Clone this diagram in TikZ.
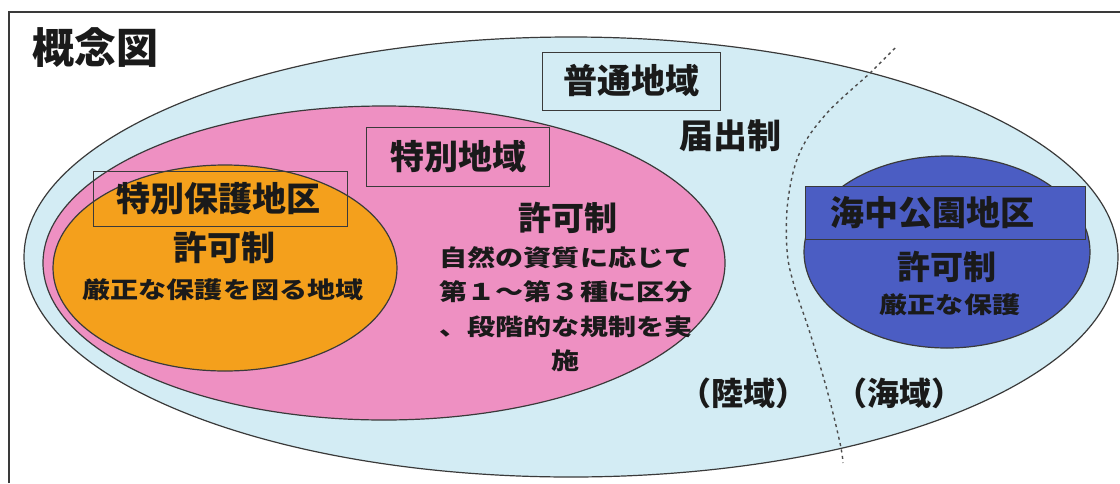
\documentclass[tikz,border=0pt]{standalone}
\usepackage{fontspec}
\setmainfont{Noto Sans CJK JP}
\newfontfamily\jpwide[FakeStretch=1.22]{Noto Sans CJK JP}
\definecolor{seablue}{HTML}{D3ECF4}
\definecolor{pinkfill}{HTML}{EE90C2}
\definecolor{orangefill}{HTML}{F4A01C}
\definecolor{navyfill}{HTML}{4B5DC3}
\definecolor{edge}{HTML}{3A3A3A}
\definecolor{ink}{HTML}{1A1A1A}
\begin{document}
\begin{tikzpicture}[x=1pt,y=-1pt,
  zone/.style={draw=edge, line width=1.2pt},
  labelbox/.style={draw=edge, line width=1pt, inner sep=0pt},
  big/.style={text=ink, font=\bfseries\fontsize{34}{40}\selectfont, inner sep=0pt},
  small/.style={text=ink, font=\jpwide\bfseries\fontsize{23}{34.5}\selectfont, inner sep=0pt, align=center},
]
\useasboundingbox (0,0) rectangle (1120,483);
\fill[white] (0,0) rectangle (1120,483);
% frame (clipped at right and bottom)
\draw[edge, line width=1.2pt] (9,483) -- (9,12) -- (1120,12);

% zones
\draw[zone, fill=seablue] (571,257) ellipse [x radius=547, y radius=220];
\draw[zone, fill=pinkfill] (384,263) ellipse [x radius=341, y radius=157];
\draw[zone, fill=orangefill] (225,268) ellipse [x radius=172, y radius=103];
\draw[zone, fill=navyfill] (947,252) ellipse [x radius=143, y radius=96];

% title
\node[text=ink, font=\bfseries\fontsize{42}{48}\selectfont, inner sep=0pt] (title) at (95,48) {概念図};

% ordinary area
\node[labelbox, minimum width=178pt, minimum height=58pt] (futsubox) at (631,81) {};
\node[big] (futsu) at (631,81) {普通地域};
\node[big] (todoke) at (730,136) {届出制};

% special area
\node[labelbox, minimum width=183pt, minimum height=59pt] (tokubetsubox) at (458,157) {};
\node[big] (tokubetsu) at (458,157) {特別地域};
\node[big, font=\bfseries\fontsize{33}{40}\selectfont] (kyoka2) at (568,218) {許可制};
\node[small] (tokudesc) at (566,309) {自然の資質に応じて\\第１～第３種に区分\\、段階的な規制を実\\施};

% special protection area
\node[labelbox, minimum width=254pt, minimum height=55pt] (hogobox) at (220,199) {};
\node[big] (hogo) at (218,199) {特別保護地区};
\node[big] (kyoka1) at (224,248) {許可制};
\node[small] (hogodesc) at (223,290) {厳正な保護を図る地域};

% marine park area
\node[labelbox, fill=navyfill, minimum width=280pt, minimum height=53pt] (kaichubox) at (945,213) {};
\node[big] (kaichu) at (932,213) {海中公園地区};
\node[big, font=\bfseries\fontsize{33}{40}\selectfont] (kyoka3) at (947,267) {許可制};
\node[small] (kaichudesc) at (950,305) {厳正な保護};

% land / sea
\node[big, font=\bfseries\fontsize{32}{40}\selectfont] (riku) at (743,393) {（陸域）};
\node[big, font=\bfseries\fontsize{32}{40}\selectfont] (umi) at (899,393) {（海域）};

% boundary between land and sea
\draw[gray!60!black, line width=1.4pt, dash pattern=on 3pt off 3.5pt]
  plot[smooth, tension=0.6] coordinates {(895,48) (870,73) (827,113) (800,152) (788,200) (787,250) (794,285) (810,333) (827,390) (840,443) (843,463)};
\end{tikzpicture}
\end{document}
